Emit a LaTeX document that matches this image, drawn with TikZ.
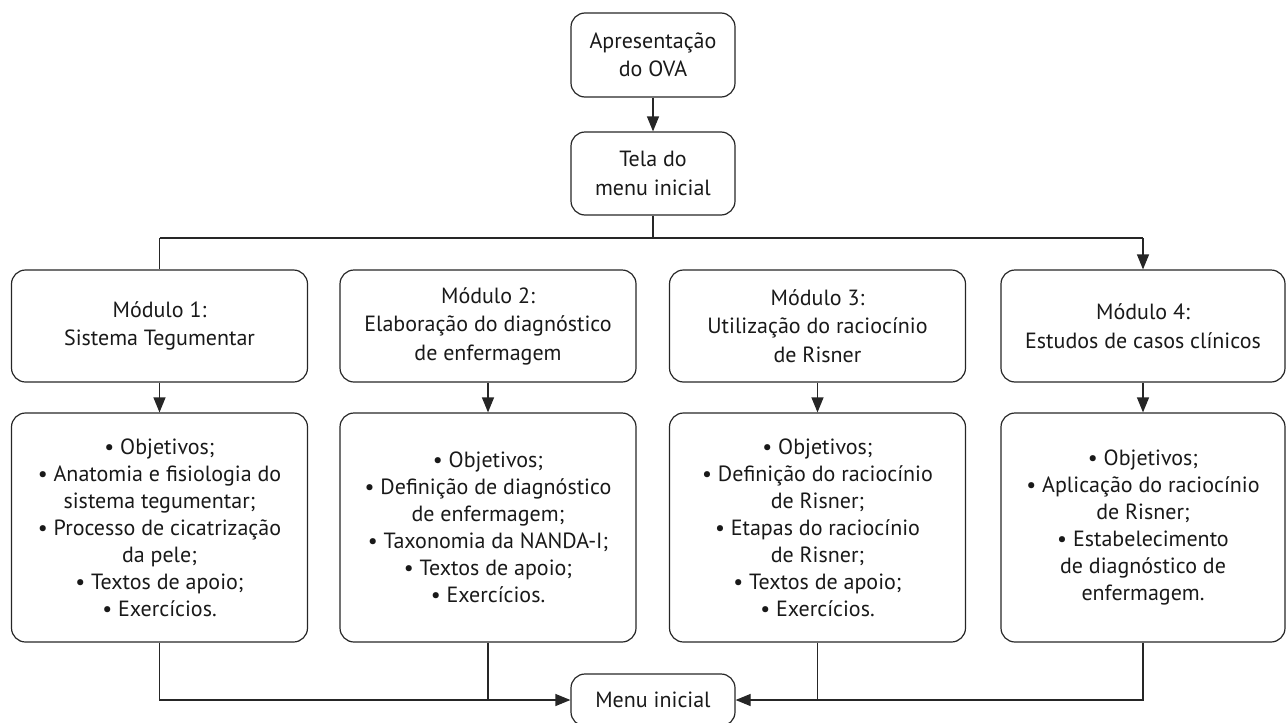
\documentclass[tikz,border=0pt]{standalone}
\usepackage{fontspec}
\setmainfont{PT Sans}
\usetikzlibrary{arrows.meta}

\begin{document}
\begin{tikzpicture}[x=1pt,y=-1pt,line width=1.2pt,draw=black!85,
    >={Triangle[length=15pt,width=12pt]}]
  \tikzstyle{box}=[draw=black!85,rounded corners=14pt,align=center,inner sep=0pt,
    font=\fontsize{22}{27}\selectfont,text=black!90]
  \tikzstyle{small box}=[box,minimum width=164pt,minimum height=84pt,
    font=\fontsize{22}{28.5}\selectfont]
  \tikzstyle{module box}=[box,minimum width=296pt,minimum height=112pt,
    font=\fontsize{22}{28.5}\selectfont]
  \tikzstyle{topic box}=[box,minimum width=296pt,minimum height=229pt]

  \useasboundingbox (0,0) rectangle (1286,723);

  % Top of the flow
  \node[small box] (ova) at (653,55) {Apresentação\\do OVA};
  \node[small box, minimum height=83pt] (tela) at (653,173.5) {Tela do\\menu inicial};
  \coordinate (split) at (653,238);

  % Modules
  \node[module box] (M-1) at (159.5,326) {Módulo 1:\\Sistema Tegumentar};
  \node[module box] (M-2) at (488,326) {Módulo 2:\\Elaboração do diagnóstico\\de enfermagem};
  \node[module box] (M-3) at (817.5,326) {Módulo 3:\\Utilização do raciocínio\\de Risner};
  \node[module box, minimum width=284pt] (M-4) at (1143,326) {Módulo 4:\\Estudos de casos clínicos};

  % Contents of each module
  \node[topic box] (C-1) at (159.5,527.5) {• Objetivos;\\• Anatomia e fisiologia do\\sistema tegumentar;\\• Processo de cicatrização\\da pele;\\• Textos de apoio;\\• Exercícios.};
  \node[topic box] (C-2) at (488,527.5) {• Objetivos;\\• Definição de diagnóstico\\de enfermagem;\\• Taxonomia da NANDA-I;\\• Textos de apoio;\\• Exercícios.};
  \node[topic box] (C-3) at (817.5,527.5) {• Objetivos;\\• Definição do raciocínio\\de Risner;\\• Etapas do raciocínio\\de Risner;\\• Textos de apoio;\\• Exercícios.};
  \node[topic box, minimum width=284pt] (C-4) at (1143,527.5) {• Objetivos;\\• Aplicação do raciocínio\\de Risner;\\• Estabelecimento\\de diagnóstico de\\enfermagem.};

  \node[small box, minimum height=52pt] (menu) at (653,700) {Menu inicial};

  % Connect nodes
  \draw[->] (ova) -- (tela);
  \draw (tela.south) -- (split);
  \draw (split -| M-1.north) -- (split -| M-4.north);
  \draw (split -| M-1.north) -- (M-1.north);
  \draw[->] (split -| M-4.north) -- (M-4.north);

  \foreach \i in {1,...,4}
  \draw[->] (M-\i) -- (C-\i);

  \draw[->] (C-1.south) |- (menu.west);
  \draw (C-2.south) -- (C-2.south |- menu.west);
  \draw[->] (C-4.south) |- (menu.east);
  \draw (C-3.south) -- (C-3.south |- menu.east);
\end{tikzpicture}
\end{document}
